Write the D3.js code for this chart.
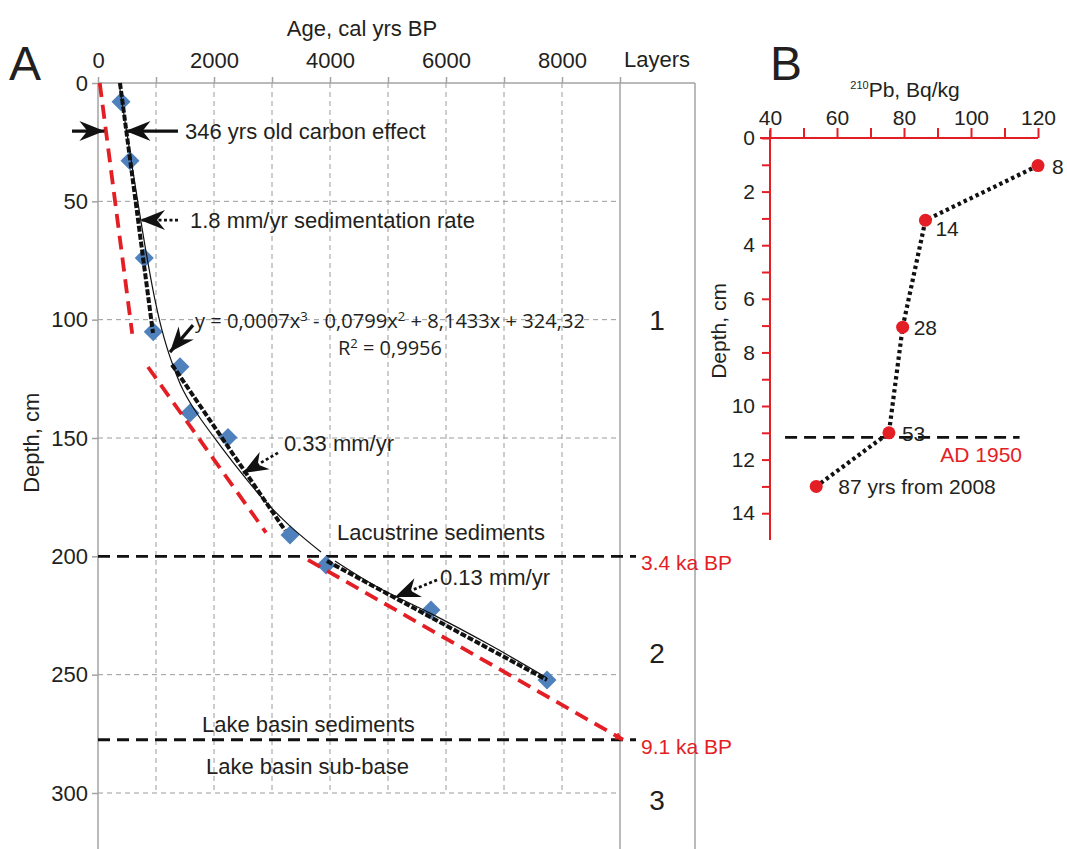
<!DOCTYPE html>
<html>
<head>
<meta charset="utf-8">
<script src="https://cdn.jsdelivr.net/npm/d3@7"></script>
<style>
    body { margin: 0; background: #fff; }
    svg { display: block; font-family: "Liberation Sans", Arial, sans-serif; }
    text { fill: #231f20; }
</style>
</head>
<body>
<div id="chart"></div>
<script>
// Self invoking function
(function() {

    // ---- Panel A data ----
    var ageTicks = [0, 2000, 4000, 6000, 8000];
    var ageGrid = [1000, 2000, 3000, 4000, 5000, 6000, 7000, 8000];
    var depthTicks = [0, 50, 100, 150, 200, 250, 300];

    // Dated samples (cal yrs BP, cm)
    var sampleAges = [397, 552, 798, 953, 1414, 1586, 2241, 3310, 3931, 5741, 7741];
    var sampleDepths = [7.9, 32.8, 73.9, 105.1, 119.9, 139.4, 149.8, 191, 203.7, 222.7, 252.3];

    // Polynomial fit [age, depth]
    var fitUpper = [[362, 0], [517, 24.1], [681, 49.4], [853, 74.8], [983, 91.7], [1103, 104.4],
        [1259, 117.0], [1466, 129.7], [1724, 140.3], [2034, 150.8], [2431, 163.5],
        [2862, 176.2], [3293, 186.8], [3845, 198.2]];
    var fitLower = [[4086, 202], [4862, 213.6], [5724, 224], [6759, 237.5], [7741, 251.4]];

    // Age model segments (black dashed) and corrected ones (red dashed)
    var modelSegments = [
        [[379, 0], [948, 105.6]],
        [[1276, 119], [3224, 189]],
        [[3948, 202], [7741, 252.3]]
    ];
    var correctedSegments = [
        [[30, 0], [590, 106]],
        [[862, 120], [2897, 190]],
        [[3621, 201.5], [9052, 277.5]]
    ];

    // Layer boundaries
    var boundaryDepths = [200, 277.5];
    var boundaryLabels = ["3.4 ka BP", "9.1 ka BP"];
    var layerNames = ["1", "2", "3"];
    var layerDepths = [100, 241, 303];

    // ---- Panel B data ----
    var pbTicks = [40, 60, 80, 100, 120];
    var pbMinor = [40, 50, 60, 70, 80, 90, 100, 110, 120];
    var pbDepthTicks = [0, 2, 4, 6, 8, 10, 12, 14];
    var pbValues = [120, 86.4, 79.6, 75.5, 53.8];
    var pbDepths = [1.03, 3.07, 7.06, 11.0, 13.0];
    var pbAges = ["8", "14", "28", "53", "87 yrs from 2008"];
    var ad1950Depth = 11.17;

    var red = "#e31e24",
        blue = "#4f81bd",
        gray = "#a3a3a3";

    var width = 1067, height = 849;

    var svg = d3.select("#chart")
        .append("svg")
        .attr("width", width)
        .attr("height", height);

    // Arrow heads
    var defs = svg.append("defs");
    defs.append("marker")
        .attr("id", "arrow")
        .attr("viewBox", "-26 -11 28 22")
        .attr("refX", 0)
        .attr("refY", 0)
        .attr("markerUnits", "userSpaceOnUse")
        .attr("markerWidth", 28)
        .attr("markerHeight", 22)
        .attr("orient", "auto")
        .append("path")
        .attr("d", "M0,0 L-25,-10 L-17,0 L-25,10 Z")
        .attr("fill", "#111");
    defs.append("marker")
        .attr("id", "arrow-red")
        .attr("viewBox", "-8 -4 9 8")
        .attr("refX", 0)
        .attr("refY", 0)
        .attr("markerUnits", "userSpaceOnUse")
        .attr("markerWidth", 9)
        .attr("markerHeight", 8)
        .attr("orient", "auto")
        .append("path")
        .attr("d", "M0,0 L-8,-4 L-8,4 Z")
        .attr("fill", red);

    // ===================== Panel A =====================
    var x = d3.scaleLinear().domain([0, 9000]).range([98, 620]);
    var y = d3.scaleLinear().domain([0, 300]).range([83, 793]);
    var layersRight = 695;

    var gA = svg.append("g");

    // Grid
    gA.selectAll(".vgrid")
        .data(ageGrid)
        .enter().append("line")
        .attr("x1", function(d) { return x(d); })
        .attr("x2", function(d) { return x(d); })
        .attr("y1", y(0))
        .attr("y2", y(300))
        .attr("stroke", "#9a9a9a")
        .attr("stroke-width", 1)
        .attr("stroke-dasharray", "5,4");
    gA.selectAll(".hgrid")
        .data(depthTicks.filter(function(d) { return d > 0 && d != 200; }))
        .enter().append("line")
        .attr("x1", x(0))
        .attr("x2", x(9000))
        .attr("y1", function(d) { return y(d); })
        .attr("y2", function(d) { return y(d); })
        .attr("stroke", "#9a9a9a")
        .attr("stroke-width", 1)
        .attr("stroke-dasharray", "5,4");

    // Top axis
    var top = d3.axisTop(x)
        .tickValues(d3.range(0, 9001, 1000))
        .tickSize(6)
        .tickFormat(function(d) { return ageTicks.indexOf(d) >= 0 ? d : ""; });
    var topG = gA.append("g")
        .attr("transform", "translate(0," + y(0) + ")")
        .call(top);
    topG.select(".domain").remove();
    topG.selectAll("line").attr("stroke", gray).attr("stroke-width", 1.5);
    topG.selectAll("text")
        .attr("font-size", 22)
        .attr("font-family", "Liberation Sans, Arial, sans-serif")
        .attr("fill", "#231f20")
        .attr("y", -15);

    // Left axis
    var left = d3.axisLeft(y)
        .tickValues(depthTicks)
        .tickSize(6);
    var leftG = gA.append("g")
        .attr("transform", "translate(" + x(0) + ",0)")
        .call(left);
    leftG.select(".domain").remove();
    leftG.selectAll("line").attr("stroke", gray).attr("stroke-width", 1.5);
    leftG.selectAll("text")
        .attr("font-size", 22)
        .attr("font-family", "Liberation Sans, Arial, sans-serif")
        .attr("fill", "#231f20")
        .attr("x", -10);

    // Frame lines
    gA.append("line")
        .attr("x1", x(0)).attr("x2", layersRight)
        .attr("y1", y(0)).attr("y2", y(0))
        .attr("stroke", gray).attr("stroke-width", 1.5);
    [x(0), x(9000), layersRight].forEach(function(px) {
        gA.append("line")
            .attr("x1", px).attr("x2", px)
            .attr("y1", y(0)).attr("y2", height)
            .attr("stroke", gray).attr("stroke-width", 1.5);
    });

    // Titles
    gA.append("text")
        .attr("x", 362).attr("y", 36)
        .attr("text-anchor", "middle")
        .attr("font-size", 22)
        .text("Age, cal yrs BP");
    gA.append("text")
        .attr("x", 657).attr("y", 67)
        .attr("text-anchor", "middle")
        .attr("font-size", 22)
        .text("Layers");
    gA.append("text")
        .attr("x", 9).attr("y", 80)
        .attr("font-size", 48)
        .text("A");
    gA.append("text")
        .attr("transform", "translate(39," + y(152) + ") rotate(-90)")
        .attr("text-anchor", "middle")
        .attr("font-size", 22)
        .text("Depth, cm");

    // Layer boundaries
    gA.selectAll(".boundary")
        .data(boundaryDepths)
        .enter().append("line")
        .attr("x1", x(0))
        .attr("x2", 636)
        .attr("y1", function(d) { return y(d); })
        .attr("y2", function(d) { return y(d); })
        .attr("stroke", "#111")
        .attr("stroke-width", 2.8)
        .attr("stroke-dasharray", "12,7");
    gA.selectAll(".boundary-label")
        .data(boundaryDepths)
        .enter().append("text")
        .attr("x", 641)
        .attr("y", function(d) { return y(d) + 14; })
        .attr("font-size", 21)
        .style("fill", red)
        .text(function(d, i) { return boundaryLabels[i]; });

    gA.selectAll(".layer")
        .data(layerNames)
        .enter().append("text")
        .attr("x", 657)
        .attr("y", function(d, i) { return y(layerDepths[i]) + 10; })
        .attr("text-anchor", "middle")
        .attr("font-size", 28)
        .text(function(d) { return d; });

    // Samples
    gA.selectAll(".sample")
        .data(sampleAges)
        .enter().append("path")
        .attr("d", "M0,-9.5 L9.5,0 L0,9.5 L-9.5,0 Z")
        .attr("transform", function(d, i) {
            return "translate(" + x(d) + "," + y(sampleDepths[i]) + ")";
        })
        .attr("fill", blue);

    var line = d3.line()
        .x(function(d) { return x(d[0]); })
        .y(function(d) { return y(d[1]); });

    // Corrected age lines (red)
    gA.selectAll(".corrected")
        .data(correctedSegments)
        .enter().append("path")
        .attr("d", line)
        .attr("fill", "none")
        .attr("stroke", red)
        .attr("stroke-width", 3.8)
        .attr("stroke-dasharray", "14,8")
        .attr("marker-end", function(d, i) { return i == 2 ? "url(#arrow-red)" : null; });

    // Age model (black dashed)
    gA.selectAll(".model")
        .data(modelSegments)
        .enter().append("path")
        .attr("d", line)
        .attr("fill", "none")
        .attr("stroke", "#111")
        .attr("stroke-width", 4)
        .attr("stroke-dasharray", "6,2");

    // Polynomial fit (thin)
    var fitLine = d3.line()
        .x(function(d) { return x(d[0]); })
        .y(function(d) { return y(d[1]); })
        .curve(d3.curveMonotoneY);
    [fitUpper, fitLower].forEach(function(seg) {
        gA.append("path")
            .datum(seg)
            .attr("d", fitLine)
            .attr("fill", "none")
            .attr("stroke", "#111")
            .attr("stroke-width", 1.2);
    });

    // Annotations
    function arrow(x1, y1, x2, y2, dotted) {
        gA.append("line")
            .attr("x1", x(x1)).attr("y1", y(y1))
            .attr("x2", x(x2)).attr("y2", y(y2))
            .attr("stroke", "#111")
            .attr("stroke-width", dotted ? 2.8 : 3.2)
            .attr("stroke-dasharray", dotted ? "3,2.5" : null)
            .attr("marker-end", "url(#arrow)");
    }
    function label(px, py, txt, size, anchor) {
        return gA.append("text")
            .attr("x", px).attr("y", py)
            .attr("font-size", size || 22)
            .attr("text-anchor", anchor || "start")
            .text(txt);
    }

    arrow(-448, 20.3, 110, 20.3, false);
    arrow(1379, 20.3, 475, 20.3, false);
    label(185, 139, "346 yrs old carbon effect");

    arrow(1379, 57.9, 724, 57.9, true);
    label(190, 228, "1.8 mm/yr sedimentation rate");

    arrow(1638, 102.3, 1241, 113.7, false);
    label(195, 328, "", 20)
        .attr("font-family", "Open Sans, sans-serif")
        .attr("textLength", 390)
        .attr("lengthAdjust", "spacingAndGlyphs")
        .html("y = 0,0007x<tspan dy='-7' font-size='13'>3</tspan><tspan dy='7'> - 0,0799x</tspan><tspan dy='-7' font-size='13'>2</tspan><tspan dy='7'> + 8,1433x + 324,32</tspan>");
    label(390, 355, "", 20, "middle")
        .attr("font-family", "Open Sans, sans-serif")
        .html("R<tspan dy='-7' font-size='13'>2</tspan><tspan dy='7'> = 0,9956</tspan>");

    arrow(3103, 156.3, 2500, 164.8, true);
    label(284, 451, "0.33 mm/yr");

    label(337, 540, "Lacustrine sediments");

    arrow(5845, 210, 5121, 217.2, true);
    label(440, 585, "0.13 mm/yr");

    label(202, 732, "Lake basin sediments");
    label(206, 774, "Lake basin sub-base");

    // ===================== Panel B =====================
    var xb = d3.scaleLinear().domain([40, 120]).range([770, 1038]);
    var yb = d3.scaleLinear().domain([0, 15]).range([138, 540]);

    var gB = svg.append("g");

    var topB = d3.axisTop(xb)
        .tickValues(pbMinor)
        .tickSize(10)
        .tickSizeOuter(0)
        .tickFormat(function(d) { return pbTicks.indexOf(d) >= 0 ? d : ""; });
    var topBG = gB.append("g")
        .attr("transform", "translate(0," + yb(0) + ")")
        .call(topB);
    topBG.select(".domain").attr("stroke", red).attr("stroke-width", 2)
        .attr("d", "M" + (xb(40) - 10) + ",0H" + xb(120));
    topBG.selectAll("line").attr("stroke", red).attr("stroke-width", 2);
    topBG.selectAll("text")
        .attr("font-size", 21)
        .attr("font-family", "Liberation Sans, Arial, sans-serif")
        .attr("fill", "#231f20")
        .attr("y", -13);

    var leftB = d3.axisLeft(yb)
        .tickValues(d3.range(0, 15, 1))
        .tickSize(8)
        .tickSizeOuter(0)
        .tickFormat(function(d) { return pbDepthTicks.indexOf(d) >= 0 ? d : ""; });
    var leftBG = gB.append("g")
        .attr("transform", "translate(" + xb(40) + ",0)")
        .call(leftB);
    leftBG.select(".domain").attr("stroke", red).attr("stroke-width", 2)
        .attr("d", "M0," + (yb(0) - 8) + "V" + yb(15));
    leftBG.selectAll("line").attr("stroke", red).attr("stroke-width", 2);
    leftBG.selectAll("text")
        .attr("font-size", 21)
        .attr("font-family", "Liberation Sans, Arial, sans-serif")
        .attr("fill", "#231f20")
        .attr("x", -15);

    gB.append("text")
        .attr("x", 770).attr("y", 80)
        .attr("font-size", 48)
        .text("B");
    gB.append("text")
        .attr("x", 905).attr("y", 97)
        .attr("text-anchor", "middle")
        .attr("font-size", 21)
        .html("<tspan font-size='11' dy='-8'>210</tspan><tspan dy='8'>Pb, Bq/kg</tspan>");
    gB.append("text")
        .attr("transform", "translate(726," + yb(7.2) + ") rotate(-90)")
        .attr("text-anchor", "middle")
        .attr("font-size", 21)
        .text("Depth, cm");

    // AD 1950 line
    gB.append("line")
        .attr("x1", xb(44.5)).attr("x2", xb(114.5))
        .attr("y1", yb(ad1950Depth)).attr("y2", yb(ad1950Depth))
        .attr("stroke", "#111")
        .attr("stroke-width", 2.6)
        .attr("stroke-dasharray", "12,7");
    gB.append("text")
        .attr("x", 1022).attr("y", yb(ad1950Depth) + 25)
        .attr("text-anchor", "end")
        .attr("font-size", 21)
        .style("fill", red)
        .text("AD 1950");

    // Dotted profile
    var pbLine = d3.line()
        .x(function(d, i) { return xb(pbValues[i]); })
        .y(function(d, i) { return yb(pbDepths[i]); });
    gB.append("path")
        .datum(pbValues)
        .attr("d", pbLine)
        .attr("fill", "none")
        .attr("stroke", "#111")
        .attr("stroke-width", 4.2)
        .attr("stroke-dasharray", "3.4,3.2");

    gB.selectAll(".pb")
        .data(pbValues)
        .enter().append("circle")
        .attr("cx", function(d) { return xb(d); })
        .attr("cy", function(d, i) { return yb(pbDepths[i]); })
        .attr("r", 6.5)
        .attr("fill", red);

    // Age labels next to the points
    var labelOffsets = [[14, 8], [10, 16], [11, 8], [13, 8], [22, 8]];
    gB.selectAll(".pb-label")
        .data(pbAges)
        .enter().append("text")
        .attr("x", function(d, i) { return xb(pbValues[i]) + labelOffsets[i][0]; })
        .attr("y", function(d, i) { return yb(pbDepths[i]) + labelOffsets[i][1]; })
        .attr("font-size", 21)
        .text(function(d) { return d; });
}());
</script>
</body>
</html>
